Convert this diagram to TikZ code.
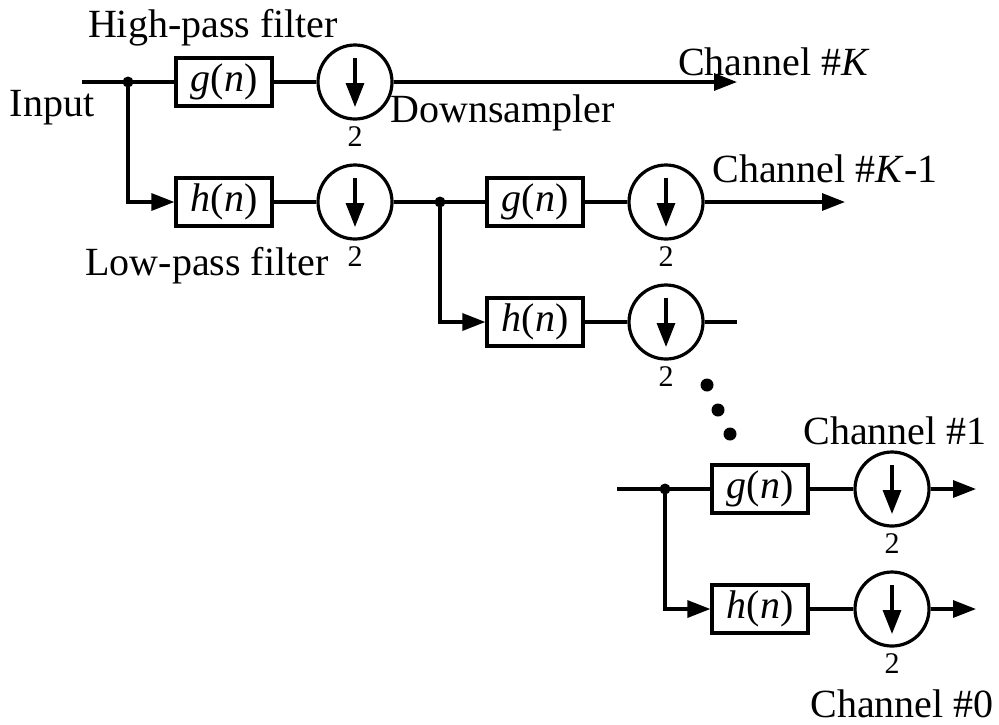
\documentclass[tikz,border=0pt]{standalone}
\usepackage{fontspec}
\setmainfont{Liberation Serif}
\usetikzlibrary{arrows.meta, positioning, calc}
\newcommand{\fn}[1]{\textit{#1}(\textit{n})}
\tikzset{
  filt/.style={draw, line width=1.6pt, minimum width=48pt, minimum height=24pt, inner sep=0pt, font=\fontsize{20}{24}\selectfont},
  dsamp/.style={draw, circle, line width=1.6pt, minimum size=37pt, inner sep=0pt},
  sig/.style={line width=1.6pt},
  sigarr/.style={line width=1.6pt, -{Triangle[length=11.5pt, width=8.5pt]}},
  dnarr/.style={line width=1.6pt, -{Triangle[length=12pt, width=9pt]}},
  lbl/.style={font=\fontsize{20}{24}\selectfont, inner sep=0pt},
  two/.style={font=\fontsize{15}{17}\selectfont, inner sep=0pt},
  tap/.style={circle, fill, inner sep=0pt, minimum size=5.5pt},
  ddot/.style={circle, fill, inner sep=0pt, minimum size=6.5pt}
}
\begin{document}
\begin{tikzpicture}[x=0.5pt, y=-0.5pt]
  \useasboundingbox (0,0) rectangle (999,724);
  % stage K
  \coordinate (in) at (82,82);
  \node[tap] (j1) at (128,82) {};
  \node[filt] (g1) at (224,82) {\fn{g}};
  \node[dsamp] (d1) at (355,82) {};
  \node[filt] (h1) at (224,202) {\fn{h}};
  \node[dsamp] (d2) at (355,202) {};
  \coordinate (e1) at (737,82);
  % stage K-1
  \node[tap] (j2) at (440,202) {};
  \node[filt] (g2) at (535,202) {\fn{g}};
  \node[dsamp] (d3) at (666,202) {};
  \node[filt] (h2) at (535,322) {\fn{h}};
  \node[dsamp] (d4) at (666,322) {};
  \coordinate (e2) at (845,202);
  \coordinate (e3) at (737,322);
  % last stage
  \coordinate (in3) at (617,489);
  \node[tap] (j3) at (665,489) {};
  \node[filt] (g3) at (760,489) {\fn{g}};
  \node[dsamp] (d5) at (892,489) {};
  \node[filt] (h3) at (760,609) {\fn{h}};
  \node[dsamp] (d6) at (892,609) {};
  \coordinate (e4) at (976,489);
  \coordinate (e5) at (976,609);

  \draw[sig] (in) -- (g1);
  \draw[sig] (g1) -- (d1);
  \draw[sigarr] (d1) -- (e1);
  \draw[sigarr] (j1.center) |- (h1);
  \draw[sig] (h1) -- (d2);
  \draw[sig] (d2) -- (g2);
  \draw[sig] (g2) -- (d3);
  \draw[sigarr] (d3) -- (e2);
  \draw[sigarr] (j2.center) |- (h2);
  \draw[sig] (h2) -- (d4);
  \draw[sig] (d4) -- (e3);
  \draw[sig] (in3) -- (g3);
  \draw[sig] (g3) -- (d5);
  \draw[sigarr] (d5) -- (e4);
  \draw[sigarr] (j3.center) |- (h3);
  \draw[sig] (h3) -- (d6);
  \draw[sigarr] (d6) -- (e5);

  \foreach \d in {d1,d2,d3,d4,d5,d6} {
    \draw[dnarr] ([yshift=12pt]\d.center) -- ([yshift=-12.5pt]\d.center);
    \node[two, below=3pt of \d.south] (\d two) {2};
  }

  \node[ddot] (p1) at (707,385) {};
  \node[ddot] (p2) at (718,410) {};
  \node[ddot] (p3) at (730,434) {};

  \node[lbl] (hp) at (213,28) {High-pass filter};
  \node[lbl] (lp) at (207,266) {Low-pass filter};
  \node[lbl] (inp) at (52,108) {Input};
  \node[lbl, anchor=west] (ds) at (390,113) {Downsampler};
  \node[lbl] (cK) at (774,62) {Channel \#\textit{K}};
  \node[lbl] (cK1) at (825,169) {Channel \#\textit{K}-1};
  \node[lbl] (c1) at (895,431) {Channel \#1};
  \node[lbl] (c0) at (902,704) {Channel \#0};
\end{tikzpicture}
\end{document}
